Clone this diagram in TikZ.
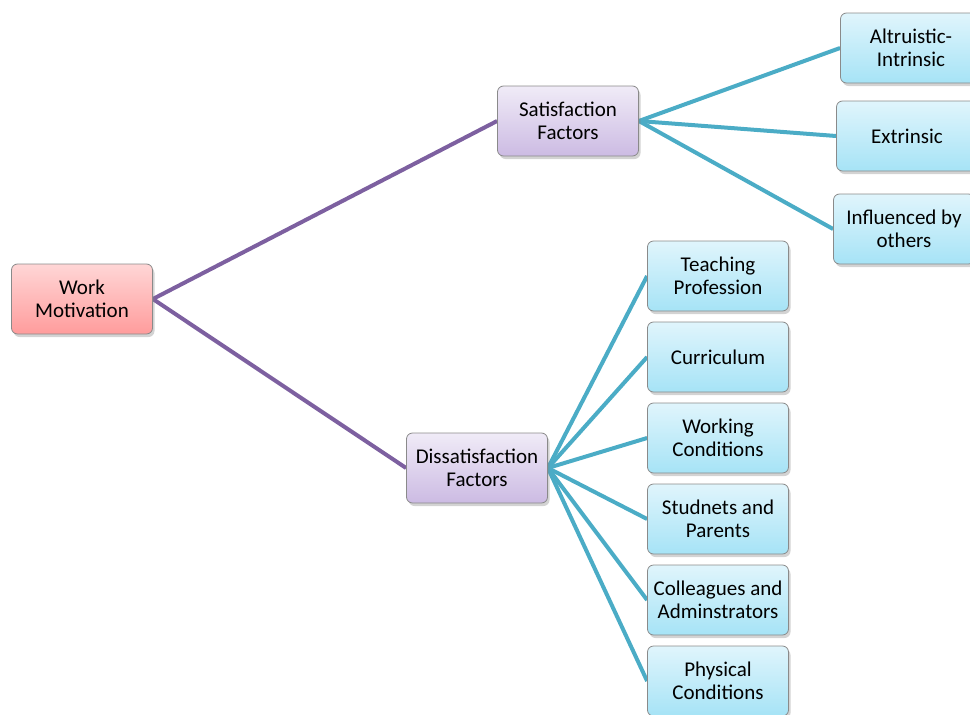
\documentclass[tikz,border=0pt]{standalone}
\usepackage{fontspec}
\setmainfont{Carlito}
\usetikzlibrary{shadows,backgrounds}
\definecolor{purpline}{HTML}{7D60A0}
\definecolor{tealline}{HTML}{4BACC6}
\definecolor{boxborder}{HTML}{8A8A8A}
\definecolor{redtop}{HTML}{FFD6D6}
\definecolor{redbot}{HTML}{FF9C9C}
\definecolor{purtop}{HTML}{F0EBF7}
\definecolor{purbot}{HTML}{CCBBE3}
\definecolor{blutop}{HTML}{E0F5FC}
\definecolor{blubot}{HTML}{A6E3F6}
\tikzset{
  box/.style={draw=boxborder, line width=0.8pt, rounded corners=6pt,
    minimum width=141pt, minimum height=70pt, align=center,
    inner sep=2pt, font=\fontsize{21}{23.5}\selectfont,
    drop shadow={opacity=0.35, shadow xshift=2pt, shadow yshift=-3pt}},
  redbox/.style={box, top color=redtop, bottom color=redbot},
  purpbox/.style={box, top color=purtop, bottom color=purbot},
  bluebox/.style={box, top color=blutop, bottom color=blubot},
  purpconn/.style={draw=purpline, line width=4pt},
  tealconn/.style={draw=tealline, line width=4pt},
}
\begin{document}
\begin{tikzpicture}[x=1pt,y=-1pt]
\useasboundingbox (0,0) rectangle (970,715);
\node[redbox] (work) at (82,299) {Work\\Motivation};
\node[purpbox] (sat) at (568,121) {Satisfaction\\Factors};
\node[purpbox] (dis) at (477,468) {Dissatisfaction\\Factors};
\node[bluebox] (alt) at (911,48) {Altruistic-\\Intrinsic};
\node[bluebox] (ext) at (907,136) {Extrinsic};
\node[bluebox] (inf) at (904,229) {Influenced by\\others};
\node[bluebox] (teach) at (718,276) {Teaching\\Profession};
\node[bluebox] (curr) at (718,357) {Curriculum};
\node[bluebox] (workc) at (718,438) {Working\\Conditions};
\node[bluebox] (stud) at (718,519) {Studnets and\\Parents};
\node[bluebox] (coll) at (718,600) {Colleagues and\\Adminstrators};
\node[bluebox] (phys) at (718,681) {Physical\\Conditions};
\begin{scope}[on background layer]
\draw[purpconn] (work.east) -- (sat.west);
\draw[purpconn] (work.east) -- (dis.west);
\foreach \t in {alt,ext,inf} \draw[tealconn] (sat.east) -- (\t.west);
\foreach \t in {teach,curr,workc,stud,coll,phys} \draw[tealconn] (dis.east) -- (\t.west);
\end{scope}
\end{tikzpicture}
\end{document}
